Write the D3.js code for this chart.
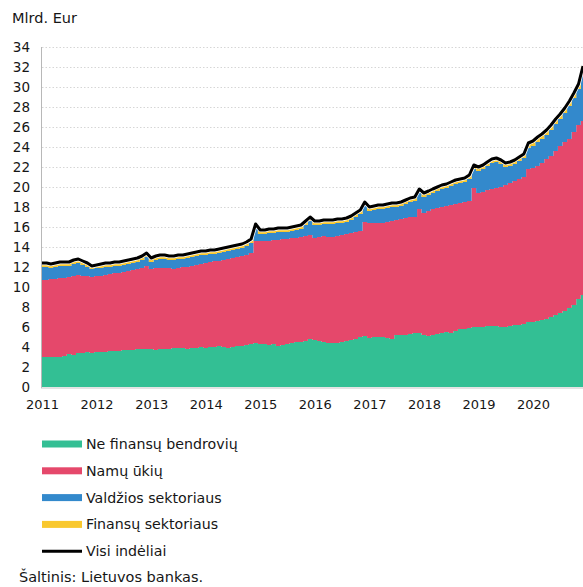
<!DOCTYPE html>
<html>
<head>
<meta charset="utf-8">
<script src="https://cdn.jsdelivr.net/npm/d3@7"></script>
<style>
  body { margin: 0; background: #fff; }
  svg text { font-family: "DejaVu Sans", Verdana, sans-serif; fill: #161616; }
</style>
</head>
<body>
<svg id="chart" width="583" height="587"></svg>
<script>
// monthly values, Jan 2011 - Dec 2020, mlrd. Eur
const years = ['2011','2012','2013','2014','2015','2016','2017','2018','2019','2020'];
const yTicks = [0,2,4,6,8,10,12,14,16,18,20,22,24,26,28,30,32,34];

const nonFinancial = [
  3.0,3.0,3.0,3.0,3.0,3.1,3.3,3.2,3.4,3.4,3.5,3.4,
  3.5,3.5,3.5,3.6,3.6,3.6,3.7,3.7,3.7,3.8,3.8,3.8,
  3.8,3.7,3.8,3.8,3.8,3.9,3.9,3.9,3.8,3.9,3.9,4.0,
  3.9,4.0,4.0,4.1,4.0,3.9,4.0,4.1,4.1,4.2,4.3,4.4,
  4.3,4.3,4.2,4.3,4.1,4.2,4.3,4.4,4.5,4.5,4.6,4.8,
  4.7,4.6,4.5,4.4,4.4,4.4,4.5,4.6,4.7,4.8,5.0,5.1,
  4.9,5.0,5.0,5.0,4.9,4.8,5.2,5.2,5.2,5.3,5.4,5.4,
  5.2,5.1,5.2,5.3,5.4,5.5,5.4,5.6,5.8,5.8,5.9,6.0,
  6.0,6.0,6.1,6.1,6.1,6.0,6.0,6.1,6.2,6.2,6.3,6.5,
  6.5,6.6,6.7,6.8,7.0,7.2,7.4,7.6,7.9,8.2,8.8,9.2
];
const households = [
  7.7,7.7,7.8,7.8,7.9,7.8,7.7,7.9,7.8,7.7,7.6,7.6,
  7.6,7.6,7.7,7.7,7.8,7.8,7.8,7.9,8.0,8.0,8.1,8.3,
  8.0,8.2,8.1,8.1,8.1,7.9,8.0,8.1,8.2,8.2,8.3,8.3,
  8.5,8.5,8.6,8.5,8.7,8.9,8.9,8.9,9.0,9.0,9.1,10.2,
  10.3,10.3,10.4,10.4,10.6,10.6,10.5,10.5,10.4,10.5,10.5,10.4,
  10.2,10.4,10.6,10.6,10.6,10.7,10.7,10.7,10.7,10.7,10.6,11.4,
  11.5,11.4,11.4,11.4,11.6,11.8,11.5,11.6,11.7,11.7,11.6,12.4,
  12.2,12.5,12.6,12.6,12.6,12.6,12.8,12.7,12.6,12.7,12.7,13.9,
  13.4,13.5,13.6,13.7,13.8,14.0,14.2,14.3,14.4,14.6,14.7,15.3,
  15.4,15.5,15.7,16.0,16.1,16.4,16.7,16.9,16.9,17.3,17.4,17.4
];
const government = [
  1.3,1.3,1.1,1.2,1.2,1.2,1.1,1.2,1.2,1.1,0.9,0.8,
  0.8,0.8,0.8,0.7,0.7,0.7,0.7,0.7,0.7,0.7,0.8,0.9,
  0.7,0.8,0.9,0.9,0.8,0.9,0.9,0.8,0.9,0.9,0.9,0.9,
  0.8,0.8,0.7,0.8,0.8,0.8,0.8,0.8,0.8,0.9,1.0,1.3,
  0.7,0.7,0.8,0.7,0.8,0.7,0.7,0.7,0.8,0.8,1.1,1.4,
  1.3,1.2,1.2,1.3,1.3,1.3,1.2,1.2,1.3,1.5,1.7,1.6,
  1.2,1.3,1.4,1.4,1.4,1.4,1.3,1.3,1.4,1.5,1.6,1.6,
  1.6,1.6,1.6,1.7,1.8,1.8,1.9,2.0,2.0,2.0,2.2,1.9,
  2.2,2.3,2.4,2.6,2.6,2.3,1.8,1.7,1.7,1.8,1.9,2.1,
  2.2,2.4,2.4,2.4,2.6,2.7,2.7,2.9,3.3,3.4,3.6,5.0
];
const financial = [
  0.4,0.4,0.4,0.4,0.4,0.4,0.4,0.4,0.4,0.4,0.4,0.3,
  0.3,0.4,0.4,0.4,0.4,0.4,0.4,0.4,0.4,0.4,0.4,0.4,
  0.4,0.4,0.4,0.4,0.4,0.4,0.4,0.4,0.4,0.4,0.4,0.4,
  0.4,0.4,0.4,0.4,0.4,0.4,0.4,0.4,0.4,0.4,0.4,0.4,
  0.4,0.4,0.4,0.4,0.4,0.4,0.4,0.4,0.4,0.4,0.4,0.4,
  0.4,0.4,0.4,0.4,0.4,0.4,0.4,0.4,0.4,0.4,0.4,0.4,
  0.4,0.4,0.4,0.4,0.4,0.4,0.4,0.4,0.4,0.4,0.4,0.4,
  0.4,0.4,0.4,0.4,0.4,0.4,0.4,0.4,0.4,0.4,0.4,0.4,
  0.4,0.4,0.4,0.4,0.4,0.4,0.4,0.4,0.4,0.4,0.4,0.5,
  0.5,0.5,0.5,0.5,0.5,0.5,0.5,0.5,0.5,0.5,0.5,0.5
];
const allDeposits = [
  12.4,12.4,12.3,12.4,12.5,12.5,12.5,12.7,12.8,12.6,12.4,12.1,
  12.2,12.3,12.4,12.4,12.5,12.5,12.6,12.7,12.8,12.9,13.1,13.4,
  12.9,13.1,13.2,13.2,13.1,13.1,13.2,13.2,13.3,13.4,13.5,13.6,
  13.6,13.7,13.7,13.8,13.9,14.0,14.1,14.2,14.3,14.5,14.8,16.3,
  15.7,15.7,15.8,15.8,15.9,15.9,15.9,16.0,16.1,16.2,16.6,17.0,
  16.6,16.6,16.7,16.7,16.7,16.8,16.8,16.9,17.1,17.4,17.7,18.5,
  18.0,18.1,18.2,18.2,18.3,18.4,18.4,18.5,18.7,18.9,19.0,19.8,
  19.4,19.6,19.8,20.0,20.2,20.3,20.5,20.7,20.8,20.9,21.2,22.2,
  22.0,22.2,22.5,22.8,22.9,22.7,22.4,22.5,22.7,23.0,23.3,24.4,
  24.6,25.0,25.3,25.7,26.2,26.8,27.3,27.9,28.6,29.4,30.3,32.1
];

const keys = ['nonFinancial','households','government','financial'];
const labels = ['Ne finansų bendrovių','Namų ūkių','Valdžios sektoriaus','Finansų sektoriaus'];
const colors = ['#33bf94','#e5486b','#3389cc','#f9c82e'];

const months = d3.timeMonths(new Date(2011,0,1), new Date(2021,0,1));
const rows = months.map((m, i) => ({
  date: m,
  nonFinancial: nonFinancial[i],
  households: households[i],
  government: government[i],
  financial: financial[i],
  total: allDeposits[i]
}));

const svg = d3.select('#chart');
const plotLeft = 42, plotRight = 583, plotTop = 47, plotBottom = 387;

const x = d3.scaleTime()
  .domain([months[0], months[months.length - 1]])
  .range([plotLeft, plotRight]);
const y = d3.scaleLinear()
  .domain([0, 34])
  .range([plotBottom, plotTop]);

// unit label
svg.append('text')
  .attr('x', 12).attr('y', 23)
  .style('font-size', '14.5px')
  .text('Mlrd. Eur');

// gridlines
svg.append('g')
  .selectAll('line')
  .data(yTicks.filter(d => d > 0))
  .enter().append('line')
  .attr('x1', plotLeft).attr('x2', plotRight)
  .attr('y1', d => y(d) + 0.5).attr('y2', d => y(d) + 0.5)
  .attr('stroke', '#d6d6d6')
  .attr('stroke-dasharray', '1.5,2');

// stacked areas
const stack = d3.stack().keys(keys);
const series = stack(rows);

const area = d3.area()
  .curve(d3.curveStep)
  .x(d => x(d.data.date))
  .y0(d => y(d[0]))
  .y1(d => y(d[1]));

svg.append('g')
  .selectAll('path')
  .data(series)
  .enter().append('path')
  .attr('fill', (d, i) => colors[i])
  .attr('d', area);

// total line with white halo
const line = d3.line()
  .x(d => x(d.date))
  .y(d => y(d.total));

svg.append('path')
  .datum(rows)
  .attr('fill', 'none')
  .attr('stroke', '#fff')
  .attr('stroke-width', 4.5)
  .attr('stroke-linejoin', 'round')
  .attr('d', line);
svg.append('path')
  .datum(rows)
  .attr('fill', 'none')
  .attr('stroke', '#000')
  .attr('stroke-width', 3)
  .attr('stroke-linejoin', 'round')
  .attr('d', line);

// axis lines
svg.append('line')
  .attr('x1', plotLeft - 0.5).attr('x2', plotLeft - 0.5)
  .attr('y1', plotTop).attr('y2', plotBottom + 1)
  .attr('stroke', '#b8b8b8');
svg.append('line')
  .attr('x1', plotLeft - 1).attr('x2', plotRight)
  .attr('y1', plotBottom + 1).attr('y2', plotBottom + 1)
  .attr('stroke', '#c8c8c8');

// y axis
const yAxis = svg.append('g')
  .attr('transform', `translate(${plotLeft},0)`)
  .call(d3.axisLeft(y).tickValues(yTicks).tickSize(0).tickPadding(12));
yAxis.select('.domain').remove();
yAxis.selectAll('text')
  .style('font-size', '13.5px')
  .style('font-family', '"DejaVu Sans", Verdana, sans-serif')
  .attr('fill', '#161616');

// x axis
const yearDates = years.map(d => new Date(+d, 0, 1));
const xAxis = svg.append('g')
  .attr('transform', `translate(0,${plotBottom})`)
  .call(d3.axisBottom(x).tickValues(yearDates).tickFormat(d3.timeFormat('%Y')).tickSize(0).tickPadding(13));
xAxis.select('.domain').remove();
xAxis.selectAll('text')
  .style('font-size', '13px')
  .style('font-family', '"DejaVu Sans", Verdana, sans-serif')
  .attr('fill', '#161616');

// legend
const legend = svg.append('g').attr('transform', 'translate(42,444)');
labels.forEach((lab, i) => {
  const g = legend.append('g').attr('transform', `translate(0,${i * 26.8})`);
  g.append('rect')
    .attr('x', 0).attr('y', -3.5)
    .attr('width', 40).attr('height', 7)
    .attr('fill', colors[i]);
  g.append('text')
    .attr('x', 44).attr('y', 0)
    .attr('dy', '0.35em')
    .style('font-size', '14.2px')
    .text(lab);
});
const lg = legend.append('g').attr('transform', `translate(0,${4 * 26.8})`);
lg.append('line')
  .attr('x1', 0).attr('x2', 40)
  .attr('stroke', '#000').attr('stroke-width', 3);
lg.append('text')
  .attr('x', 44).attr('dy', '0.35em')
  .style('font-size', '14.2px')
  .text('Visi indėliai');

// source
svg.append('text')
  .attr('x', 19).attr('y', 577)
  .attr('dy', '0.35em')
  .style('font-size', '14.5px')
  .text('Šaltinis: Lietuvos bankas.');
</script>
</body>
</html>
